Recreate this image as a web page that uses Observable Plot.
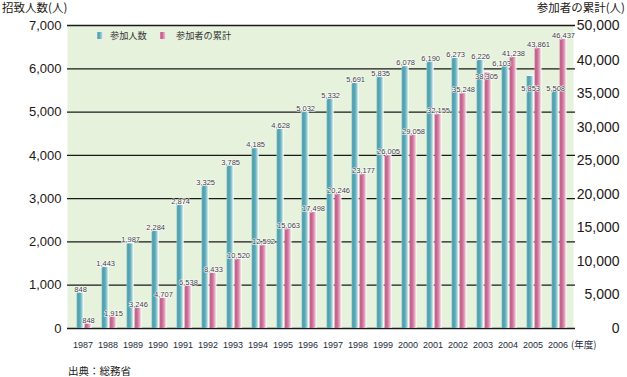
<!DOCTYPE html>
<html><head><meta charset="utf-8">
<script src="https://cdn.jsdelivr.net/npm/d3@7"></script>
<script src="https://cdn.jsdelivr.net/npm/@observablehq/plot@0.6"></script>
<style>
body{margin:0;background:#fff;}
#chart{position:relative;width:627px;height:377px;font-family:"Liberation Sans",Arial,sans-serif;overflow:hidden;}
#chart svg.plot{position:absolute;left:0;top:0;}
.jp{font-family:"Noto Sans CJK JP",sans-serif;color:#231815;position:absolute;white-space:nowrap;line-height:1.1;}
.ico{position:absolute;width:6px;height:7px;}
</style></head><body>
<svg width="0" height="0" style="position:absolute">
<defs>
<linearGradient id="gBlue" x1="0" x2="1" y1="0" y2="0">
<stop offset="0" stop-color="#8cc6d0"/>
<stop offset="0.18" stop-color="#4e9dac"/>
<stop offset="0.5" stop-color="#5eaab7"/>
<stop offset="0.78" stop-color="#a4d3db"/>
<stop offset="0.9" stop-color="#e2f2f4"/>
<stop offset="1" stop-color="#ffffff"/>
</linearGradient>
<linearGradient id="gPink" x1="0" x2="1" y1="0" y2="0">
<stop offset="0" stop-color="#d98aab"/>
<stop offset="0.18" stop-color="#c05a86"/>
<stop offset="0.5" stop-color="#d27aa0"/>
<stop offset="0.78" stop-color="#e9b4ca"/>
<stop offset="0.9" stop-color="#f6e0e9"/>
<stop offset="1" stop-color="#ffffff"/>
</linearGradient>
</defs></svg>
<div id="chart">
<div class="jp" style="left:2px;top:1px;font-size:11.5px">招致人数(人)</div>
<div class="jp" style="right:2px;top:1px;font-size:11.5px">参加者の累計(人)</div>
<div class="jp" style="left:571px;top:339px;font-size:9.5px;color:#222a3a">(年度)</div>
<div class="jp" style="left:68px;top:365px;font-size:10.5px">出典：総務省</div>
</div>
<script>
const years = [1987,1988,1989,1990,1991,1992,1993,1994,1995,1996,1997,1998,1999,2000,2001,2002,2003,2004,2005,2006];
const participants = [848,1443,1987,2284,2874,3325,3785,4185,4628,5032,5332,5691,5835,6078,6190,6273,6226,6103,5853,5508];
const cumulative = [848,1915,3246,4707,6538,8433,10520,12592,15063,17498,20246,23177,26005,29058,32155,35248,38305,41238,43861,46437];
const leftTicks = [0,1000,2000,3000,4000,5000,6000,7000];
const rightTicks = [0,5000,10000,15000,20000,25000,30000,35000,40000,50000];
const seriesNames = ["参加人数","参加者の累計"];

const data = years.map((year,i)=>({year, p: participants[i], c: cumulative[i]}));
const fmt = d3.format(",");

const W = 627, H = 377, mL = 67, mR = 54, mT = 25, mB = 49;
const band = (W - mL - mR) / years.length;
const blueIn = {insetLeft: 6.5, insetRight: band - 14};
const pinkIn = {insetLeft: 14.5, insetRight: band - 21.8};
const blueDx = 6.5 + 3.75 - band/2;
const pinkDx = 14.5 + 3.65 - band/2;

const labelStyle = {fontSize: 7.5, fill: "#3a3a3a", stroke: "white", strokeWidth: 1.2, fontFamily: "Liberation Sans, Arial, sans-serif"};

function labels(key, dxBase, special) {
  const marks = [Plot.text(data.filter(d => !(d.year in special)), {
    x: "year", y: key, text: d => fmt(d[key]), dx: dxBase, lineAnchor: "bottom", ...labelStyle
  })];
  for (const [yr, o] of Object.entries(special)) {
    marks.push(Plot.text(data.filter(d => d.year === +yr), {
      x: "year", y: key, text: d => fmt(d[key]), dx: dxBase + o.dx, dy: o.dy, lineAnchor: "middle", ...labelStyle
    }));
  }
  return marks;
}

const xScale = {type: "band", domain: years, padding: 0, label: null};
const base = {width: W, height: H, marginLeft: mL, marginRight: mR, marginTop: mT, marginBottom: mB,
  style: {background: "transparent", fontFamily: "Liberation Sans, Arial, sans-serif", color: "#231815"}};

// the reference's right axis is squeezed above 40,000 (50,000 sits at the top of the frame)
const squeeze = v => v <= 40000 ? v : 40000 + (v - 40000) * 0.5224;
const leftY = {domain: [0, 7000], label: null};
const rightY = {transform: squeeze, domain: [0, squeeze(50000)], label: null};

// layer 1: frame, grid, blue bars, left and bottom axes
const plot1 = Plot.plot({...base, x: xScale, y: leftY,
  marks: [
    Plot.frame({fill: "#e6f2dc", stroke: null}),
    Plot.ruleY(leftTicks, {stroke: "#1a1a1a", strokeWidth: 1.3, insetRight: -2}),
    Plot.barY(data, {x: "year", y: "p", fill: "url(#gBlue)", ...blueIn}),
    Plot.tickY(data, {x: "year", y: "p", stroke: "white", strokeWidth: 1.6, ...blueIn}),
    Plot.axisY(leftTicks, {tickSize: 0, tickPadding: 6, fontSize: 13, tickFormat: fmt, fill: "#231815", label: null}),
    Plot.axisX({tickSize: 0, tickPadding: 13, fontSize: 9, fill: "#222a3a", tickFormat: d => String(d), label: null})
  ]
});

// layer 2: pink bars, their labels, right axis
const plot2 = Plot.plot({...base, x: {...xScale, axis: null}, y: rightY,
  marks: [
    Plot.barY(data, {x: "year", y: "c", fill: "url(#gPink)", ...pinkIn}),
    Plot.tickY(data, {x: "year", y: "c", stroke: "white", strokeWidth: 1.6, ...pinkIn}),
    ...labels("c", pinkDx, {2003: {dx: -2, dy: 5}}),
    Plot.axisY(rightTicks, {anchor: "right", tickSize: 0, tickPadding: 46, textAnchor: "end", fontSize: 14, tickFormat: fmt, fill: "#231815", label: null})
  ]
});

// layer 3: blue value labels on top of everything
const plot3 = Plot.plot({...base, x: {...xScale, axis: null}, y: {...leftY, axis: null},
  marks: [
    ...labels("p", blueDx, {2004: {dx: -4, dy: -1}, 2005: {dx: 0, dy: 13}, 2006: {dx: 0, dy: -1.5}})
  ]
});

const chart = document.getElementById("chart");
for (const p of [plot3, plot2, plot1]) { p.classList.add("plot"); chart.prepend(p); }

const legendItems = [
  {name: seriesNames[0], bg: "linear-gradient(90deg,#8cc6d0,#4e9dac 30%,#a4d3db 80%,#fff)", icoLeft: 97, textLeft: 110},
  {name: seriesNames[1], bg: "linear-gradient(90deg,#d98aab,#c05a86 30%,#e9b4ca 80%,#fff)", icoLeft: 160, textLeft: 176}
];
for (const it of legendItems) {
  const ico = document.createElement("div");
  ico.className = "ico";
  ico.style.left = it.icoLeft + "px"; ico.style.top = "32px"; ico.style.background = it.bg;
  chart.appendChild(ico);
  const t = document.createElement("div");
  t.className = "jp";
  t.style.left = it.textLeft + "px"; t.style.top = "30px"; t.style.fontSize = "9.2px"; t.style.color = "#333";
  t.textContent = it.name;
  chart.appendChild(t);
}
</script>
</body></html>
